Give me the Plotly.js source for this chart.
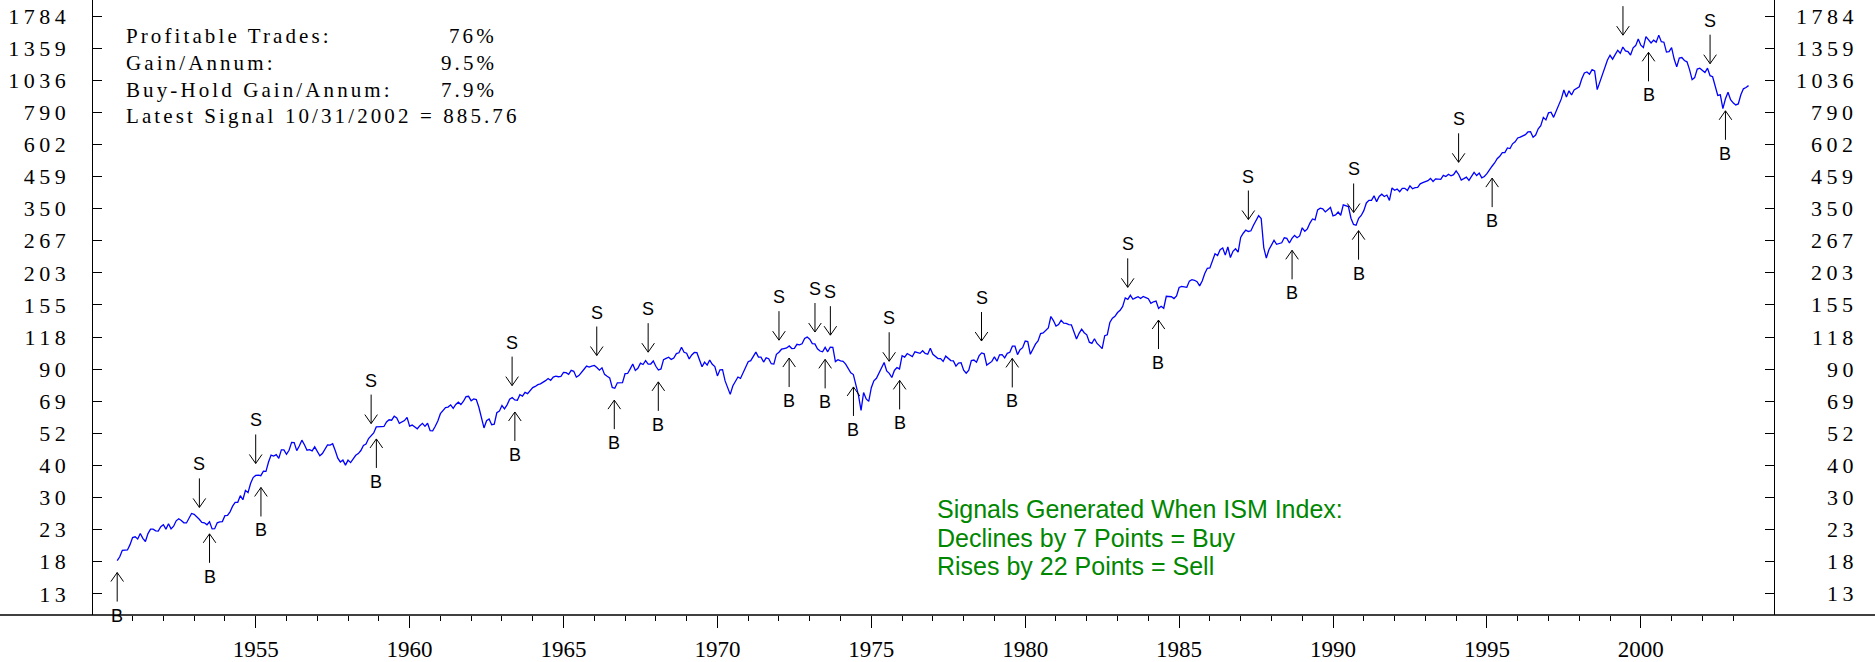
<!DOCTYPE html>
<html>
<head>
<meta charset="utf-8">
<script src="https://cdn.plot.ly/plotly-3.0.1.min.js"></script>
<style>
html, body { margin: 0; padding: 0; background: #ffffff; }
#chart { width: 1875px; height: 662px; }
.ytick text { letter-spacing: 4.5px; }
text.annotation-text[style*="font-size: 22px"] { letter-spacing: 4.5px; }
text.annotation-text[style*="font-size: 21px"] { letter-spacing: 3.1px; }
</style>
</head>
<body>
<div id="chart"></div>
<script>
// ---------------- DATA ----------------
// S&P 500 month-end closes, starting July 1950
const startYear = 1950;
const startMonth = 7;

const sp1950s = [
  17.84, 18.42, 19.45, 19.53, 19.51, 20.41,
  21.66, 21.80, 21.40, 22.43, 21.52, 20.96, 22.40, 23.28, 23.26, 22.94, 22.88, 23.77,
  24.14, 23.26, 24.37, 23.32, 23.86, 24.96, 25.40, 25.03, 24.54, 24.52, 25.66, 26.57,
  26.38, 25.90, 25.29, 24.62, 24.54, 24.14, 24.75, 23.32, 23.35, 24.54, 24.76, 24.81,
  26.08, 26.15, 26.94, 28.26, 29.19, 29.21, 30.88, 29.83, 32.31, 31.68, 34.24, 35.98,
  36.63, 36.76, 36.58, 37.96, 37.91, 41.03, 43.52, 43.18, 43.67, 42.34, 45.51, 45.48,
  43.82, 45.34, 48.48, 48.38, 45.20, 46.97, 49.39, 47.51, 45.35, 45.58, 45.08, 46.67,
  44.72, 43.26, 44.11, 45.74, 47.43, 47.37, 47.91, 45.22, 42.42, 41.06, 41.72, 39.99,
  41.70, 40.84, 42.10, 43.44, 44.09, 45.24, 47.19, 47.75, 50.06, 51.33, 52.48, 55.21,
  55.42, 55.41, 55.44, 57.59, 58.68, 58.47, 60.51, 59.60, 56.88, 57.52, 58.28, 59.89
];
const sp1960s = [
  55.61, 56.12, 55.34, 54.37, 55.83, 56.92, 55.51, 56.96, 53.52, 53.39, 55.54, 58.11,
  61.78, 63.44, 65.06, 65.31, 66.56, 64.64, 66.76, 68.07, 66.73, 68.62, 71.32, 71.55,
  68.84, 69.96, 69.55, 65.24, 59.63, 54.75, 58.23, 59.12, 56.27, 56.52, 62.26, 63.10,
  66.20, 64.29, 66.57, 69.80, 70.80, 69.37, 69.13, 72.50, 71.70, 74.01, 73.23, 75.02,
  77.04, 77.80, 78.98, 79.46, 80.37, 81.69, 83.18, 81.83, 84.18, 84.86, 84.42, 84.75,
  87.56, 87.43, 86.16, 89.11, 88.42, 84.12, 85.25, 87.17, 89.96, 92.42, 91.61, 92.43,
  92.88, 91.22, 89.23, 91.06, 86.13, 84.74, 83.60, 77.10, 76.56, 80.20, 80.45, 80.33,
  86.61, 86.78, 90.20, 94.01, 89.08, 90.64, 94.75, 93.64, 96.71, 93.90, 94.00, 96.47,
  92.24, 89.36, 90.20, 97.59, 98.68, 99.58, 97.74, 98.86, 102.67, 103.41, 108.37, 103.86,
  103.01, 98.13, 101.51, 103.69, 103.46, 97.71, 91.83, 95.51, 93.12, 97.24, 93.81, 92.06
];
const sp1970s = [
  85.02, 89.50, 89.63, 81.52, 76.55, 72.72, 78.05, 81.52, 84.21, 83.25, 87.20, 92.15,
  95.88, 96.75, 100.31, 103.95, 99.63, 99.70, 95.58, 99.03, 98.34, 94.23, 93.99, 102.09,
  103.94, 106.57, 107.20, 107.67, 109.53, 107.14, 107.39, 111.09, 110.55, 111.58, 116.67, 118.05,
  116.03, 111.68, 111.52, 106.97, 104.95, 104.26, 108.22, 104.25, 108.43, 108.29, 95.96, 97.55,
  96.57, 96.22, 93.98, 90.31, 87.28, 86.00, 79.31, 72.15, 63.54, 73.90, 69.97, 68.56,
  76.98, 81.59, 83.36, 87.30, 91.15, 95.19, 88.75, 86.88, 83.87, 89.04, 91.24, 90.19,
  100.86, 99.71, 102.77, 101.64, 100.18, 104.28, 103.44, 102.91, 105.24, 102.90, 102.10, 107.46,
  102.03, 99.82, 98.42, 98.44, 96.12, 100.48, 98.85, 96.77, 96.53, 92.34, 94.83, 95.10,
  89.25, 87.04, 89.21, 96.83, 97.24, 95.53, 100.68, 103.29, 102.54, 93.15, 94.70, 96.11,
  99.93, 96.28, 101.59, 101.76, 99.08, 102.91, 103.81, 109.32, 109.32, 101.82, 106.16, 107.94
];
const sp1980s = [
  114.16, 113.66, 102.09, 106.29, 111.24, 114.24, 121.67, 122.38, 125.46, 127.47, 140.52, 135.76,
  129.55, 131.27, 136.00, 132.81, 132.59, 131.21, 130.92, 122.79, 116.18, 121.89, 126.35, 122.55,
  120.40, 113.11, 111.96, 116.44, 111.88, 109.61, 107.09, 119.51, 120.42, 133.71, 138.54, 140.64,
  145.30, 148.06, 152.96, 164.42, 162.39, 168.11, 162.56, 164.40, 166.07, 163.55, 166.40, 164.93,
  163.41, 157.06, 159.18, 160.05, 150.55, 153.18, 150.66, 166.68, 166.10, 166.09, 163.58, 167.24,
  179.63, 181.18, 180.66, 179.83, 189.55, 191.85, 190.92, 188.63, 182.08, 189.82, 202.17, 211.28,
  211.78, 226.92, 238.90, 235.52, 247.35, 250.84, 236.12, 252.93, 231.32, 243.98, 249.22, 242.17,
  274.08, 284.20, 291.70, 288.36, 290.10, 304.00, 318.66, 329.80, 321.83, 251.79, 230.30, 247.08,
  257.07, 267.82, 258.89, 261.33, 262.16, 273.50, 272.02, 261.52, 271.91, 278.97, 273.70, 277.72,
  297.47, 288.86, 294.87, 309.64, 320.52, 317.98, 346.08, 351.45, 349.15, 340.36, 345.99, 353.40
];
const sp1990s = [
  329.08, 331.89, 339.94, 330.80, 361.23, 358.02, 356.15, 322.56, 306.05, 304.00, 322.22, 330.22,
  343.93, 367.07, 375.22, 375.35, 389.83, 371.16, 387.81, 395.43, 387.86, 392.46, 375.22, 417.09,
  408.79, 412.70, 403.69, 414.95, 415.35, 408.14, 424.21, 414.03, 417.80, 418.68, 431.35, 435.71,
  438.78, 443.38, 451.67, 440.19, 450.19, 450.53, 448.13, 463.56, 458.93, 467.83, 461.79, 466.45,
  481.61, 467.14, 445.77, 450.91, 456.50, 444.27, 458.26, 475.49, 462.69, 472.35, 453.69, 459.27,
  470.42, 487.39, 500.71, 514.71, 533.40, 544.75, 562.06, 561.88, 584.41, 581.50, 605.37, 615.93,
  636.02, 640.43, 645.50, 654.17, 669.12, 670.63, 639.95, 651.99, 687.31, 705.27, 757.02, 740.74,
  786.16, 790.82, 757.12, 801.34, 848.28, 885.14, 954.29, 899.47, 947.28, 914.62, 955.40, 970.43,
  980.28, 1049.34, 1101.75, 1111.75, 1090.82, 1133.84, 1120.67, 957.28, 1017.01, 1098.67, 1163.63, 1229.23,
  1279.64, 1238.33, 1286.37, 1335.18, 1301.84, 1372.71, 1328.72, 1320.41, 1282.71, 1362.93, 1388.91, 1469.25
];
const sp2000s = [
  1394.46, 1366.42, 1498.58, 1452.43, 1420.60, 1454.60, 1430.83, 1517.68, 1436.51, 1429.40, 1314.95, 1320.28,
  1366.01, 1239.94, 1160.33, 1249.46, 1255.82, 1224.42, 1211.23, 1133.58, 1040.94, 1059.78, 1139.45, 1148.08,
  1130.20, 1106.73, 1147.39, 1076.92, 1067.14, 989.82, 911.62, 916.07, 815.28, 885.76, 936.31, 879.82,
  855.70, 841.15, 848.18, 916.92, 963.59, 974.50, 990.31
];

// Signal dates (decimal years)
const buyDates = [1950.50, 1953.50, 1955.17, 1958.92, 1963.42, 1966.65, 1968.08, 1972.33, 1973.50,
                  1974.42, 1975.92, 1979.58, 1984.33, 1988.67, 1990.83, 1995.17, 2000.25, 2002.75];
const sellDates = [1953.17, 1955.00, 1958.75, 1963.33, 1966.08, 1967.75, 1972.00, 1973.17, 1973.67,
                   1975.58, 1978.58, 1983.33, 1987.25, 1990.67, 1994.08, 1999.42, 2002.25];

// Axis tick labels
const yTickLabels = ['13', '18', '23', '30', '40', '52', '69', '90', '118', '155', '203',
                     '267', '350', '459', '602', '790', '1036', '1359', '1784'];
const yearLabels = [1955, 1960, 1965, 1970, 1975, 1980, 1985, 1990, 1995, 2000];

// Text blocks
const statLabels = ['Profitable Trades:', 'Gain/Annum:', 'Buy-Hold Gain/Annum:'];
const statValues = ['76%', '9.5%', '7.9%'];
const latestSignalText = 'Latest Signal 10/31/2002 = 885.76';
const ruleLines = ['Signals Generated When ISM Index:', 'Declines by 7 Points = Buy', 'Rises by 22 Points = Sell'];

// ---------------- BUILD ----------------
const closes = [].concat(sp1950s, sp1960s, sp1970s, sp1980s, sp1990s, sp2000s);
const dates = closes.map((_, i) => startYear + (startMonth - 1 + i) / 12);

// y ticks are equally spaced in log: geometric progression ending at the top label
const yTickTop = 1784, yTickLogStep = 0.1179;
const yTickVals = yTickLabels.map((_, i) =>
  Math.pow(10, Math.log10(yTickTop) - (yTickLabels.length - 1 - i) * yTickLogStep));

const minorYears = [];
for (let y = 1951; y <= 2003; y++) if (y % 5 !== 0) minorYears.push(y);

function priceAt(t) {
  const f = (t - dates[0]) * 12;
  const i = Math.max(0, Math.min(closes.length - 2, Math.floor(f)));
  const u = Math.max(0, Math.min(1, f - i));
  return Math.pow(10, Math.log10(closes[i]) * (1 - u) + Math.log10(closes[i + 1]) * u);
}

const W = 1875, H = 662;
const M = { l: 93, r: 101, t: 0, b: 47 };
const PW = W - M.l - M.r, PH = H - M.t - M.b;
const paperX = px => (px - M.l) / PW;
const paperY = py => (H - M.b - py) / PH;

const serif = 'Liberation Serif, Times New Roman, serif';
const sans = 'Liberation Sans, Arial, sans-serif';

const GAP = 12, SHAFT = 29, HEAD_W = 6.3, HEAD_H = 9, LABEL_OFF = 43;
function arrowPath(s) {
  const tip = s * GAP, tail = s * (GAP + SHAFT), hy = s * (GAP + HEAD_H);
  return 'M0,' + tail + ' L0,' + tip + ' M' + (-HEAD_W) + ',' + hy + ' L0,' + tip + ' L' + HEAD_W + ',' + hy;
}

const shapes = [];
const annotations = [];

function addSignal(t, isSell) {
  const s = isSell ? 1 : -1;
  const p = priceAt(t);
  shapes.push({
    type: 'path', xref: 'x', yref: 'y',
    xsizemode: 'pixel', ysizemode: 'pixel',
    xanchor: t, yanchor: p,
    path: arrowPath(s),
    line: { color: '#000000', width: 1 },
    fillcolor: 'rgba(0,0,0,0)',
    layer: 'above'
  });
  annotations.push({
    x: t, y: Math.log10(p), xref: 'x', yref: 'y',
    text: isSell ? 'S' : 'B', showarrow: false,
    yshift: s * (GAP + LABEL_OFF),
    font: { family: sans, size: 18, color: '#000000' }
  });
}
sellDates.forEach(t => addSignal(t, true));
buyDates.forEach(t => addSignal(t, false));

// full-width x axis line
shapes.push({
  type: 'line', xref: 'paper', yref: 'paper',
  x0: paperX(0), x1: paperX(W), y0: 0, y1: 0,
  line: { color: '#000000', width: 1.6 }, layer: 'above'
});

// right-side tick labels, right-aligned
yTickVals.forEach((v, i) => {
  annotations.push({
    x: paperX(1859.5), xref: 'paper', xanchor: 'right',
    y: Math.log10(v), yref: 'y', yanchor: 'middle',
    text: yTickLabels[i], showarrow: false, borderpad: 0,
    font: { family: serif, size: 22, color: '#000000' }
  });
});

// statistics box
const statBaselines = [43.3, 70.0, 96.7];
const STAT_MID = 7;
statLabels.forEach((t, i) => {
  annotations.push({
    x: paperX(125), xref: 'paper', xanchor: 'left',
    y: paperY(statBaselines[i] - STAT_MID), yref: 'paper', yanchor: 'middle',
    text: t, showarrow: false, borderpad: 0,
    font: { family: serif, size: 21, color: '#000000' }
  });
  annotations.push({
    x: paperX(498.1), xref: 'paper', xanchor: 'right',
    y: paperY(statBaselines[i] - STAT_MID), yref: 'paper', yanchor: 'middle',
    text: statValues[i], showarrow: false, borderpad: 0,
    font: { family: serif, size: 21, color: '#000000' }
  });
});
annotations.push({
  x: paperX(125), xref: 'paper', xanchor: 'left',
  y: paperY(123.3 - STAT_MID), yref: 'paper', yanchor: 'middle',
  text: latestSignalText, showarrow: false, borderpad: 0,
  font: { family: serif, size: 21, color: '#000000' }
});

// green rule text
const ruleBaselines = [517.3, 546.7, 575.0];
ruleLines.forEach((t, i) => {
  annotations.push({
    x: paperX(936), xref: 'paper', xanchor: 'left',
    y: paperY(ruleBaselines[i] - 8.7), yref: 'paper', yanchor: 'middle',
    text: t, showarrow: false, borderpad: 0,
    font: { family: sans, size: 25, color: 'rgb(0,135,0)' }
  });
});

const trace = {
  x: dates, y: closes, type: 'scatter', mode: 'lines',
  line: { color: '#0000ff', width: 1.3 },
  hoverinfo: 'skip', showlegend: false
};

const layout = {
  width: W, height: H,
  margin: M,
  paper_bgcolor: '#ffffff', plot_bgcolor: '#ffffff',
  showlegend: false,
  font: { family: serif, color: '#000000' },
  xaxis: {
    range: [1949.714, 2004.327],
    showgrid: false, zeroline: false, showline: false,
    tickmode: 'array', tickvals: yearLabels, ticktext: yearLabels.map(String),
    ticks: 'outside', ticklen: 12, tickwidth: 1, tickcolor: '#000000',
    tickfont: { family: serif, size: 23, color: '#000000' },
    ticklabelstandoff: 1,
    minor: { tickmode: 'array', tickvals: minorYears, ticks: 'outside', ticklen: 5,
             tickwidth: 1, tickcolor: '#000000', showgrid: false },
    fixedrange: true
  },
  yaxis: {
    type: 'log', range: [1.0514, 3.3102],
    showgrid: false, zeroline: false,
    showline: true, linecolor: '#000000', linewidth: 1.3, mirror: 'ticks',
    tickmode: 'array', tickvals: yTickVals, ticktext: yTickLabels,
    ticks: 'inside', ticklen: 9, tickwidth: 1, tickcolor: '#000000',
    tickfont: { family: serif, size: 22, color: '#000000' },
    ticklabelstandoff: 17,
    fixedrange: true
  },
  shapes: shapes,
  annotations: annotations
};

Plotly.newPlot('chart', [trace], layout, { staticPlot: true, displayModeBar: false });
</script>
</body>
</html>
